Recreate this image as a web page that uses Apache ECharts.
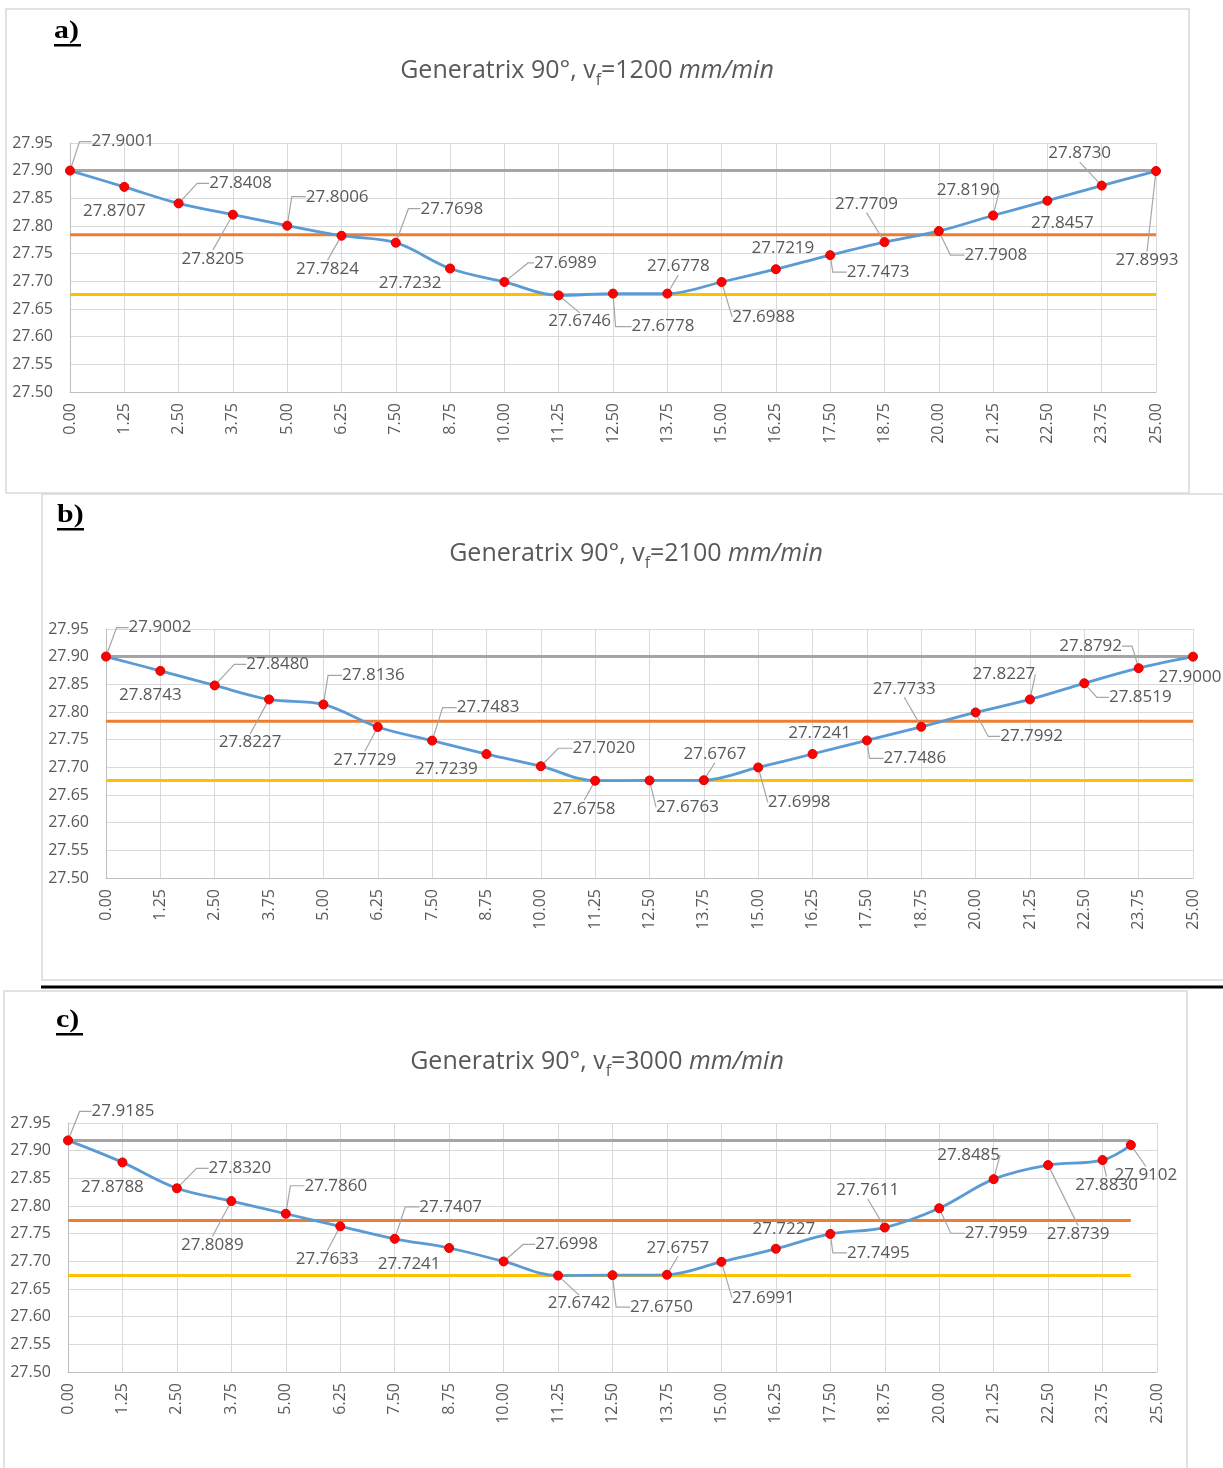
<!DOCTYPE html>
<html>
<head>
<meta charset="utf-8">
<script src="https://cdn.jsdelivr.net/npm/echarts@6/dist/echarts.min.js"></script>
<style>
html,body{margin:0;padding:0;background:#ffffff;}
#chart{width:1223px;height:1468px;}
</style>
</head>
<body>
<div id="chart"></div>
<script>
// ---------------- DATA ----------------
const positionsA = [0, 1.25, 2.5, 3.75, 5, 6.25, 7.5, 8.75, 10, 11.25, 12.5, 13.75, 15, 16.25, 17.5, 18.75, 20, 21.25, 22.5, 23.75, 25];
const positionsB = [0, 1.25, 2.5, 3.75, 5, 6.25, 7.5, 8.75, 10, 11.25, 12.5, 13.75, 15, 16.25, 17.5, 18.75, 20, 21.25, 22.5, 23.75, 25];
const positionsC = [0, 1.25, 2.5, 3.75, 5, 6.25, 7.5, 8.75, 10, 11.25, 12.5, 13.75, 15, 16.25, 17.5, 18.75, 20, 21.25, 22.5, 23.75, 24.4];

const diameterA = [27.9001, 27.8707, 27.8408, 27.8205, 27.8006, 27.7824, 27.7698, 27.7232, 27.6989, 27.6746, 27.6778,
                   27.6778, 27.6988, 27.7219, 27.7473, 27.7709, 27.7908, 27.8190, 27.8457, 27.8730, 27.8993];
const diameterB = [27.9002, 27.8743, 27.8480, 27.8227, 27.8136, 27.7729, 27.7483, 27.7239, 27.7020, 27.6758, 27.6763,
                   27.6767, 27.6998, 27.7241, 27.7486, 27.7733, 27.7992, 27.8227, 27.8519, 27.8792, 27.9000];
const diameterC = [27.9185, 27.8788, 27.8320, 27.8089, 27.7860, 27.7633, 27.7407, 27.7241, 27.6998, 27.6742, 27.6750,
                   27.6757, 27.6991, 27.7227, 27.7495, 27.7611, 27.7959, 27.8485, 27.8739, 27.8830, 27.9102];

// reference lines: [grey (max), orange, yellow (min)]
const referenceA = [27.9001, 27.7844, 27.6760];
const referenceB = [27.9002, 27.7832, 27.6762];
const referenceC = [27.9185, 27.7736, 27.6745];

const feedRates = ['1200', '2100', '3000'];
const panelTags = ['a)', 'b)', 'c)'];

// ---------------- LABEL PLACEMENT (layout only) ----------------
// [dx, dy] of label centre from its marker, and leader stub length (null = no leader)
const labelOffsetA = [[53,-29],[-10,24],[62,-20],[-20,44],[50,-29],[-14,33],[56,-34],[-40,15],[61,-19],[21,26],[50,33],
                      [11,-27],[42,35],[7,-21],[48,17],[-18,-38],[57,24],[-25,-25],[15,22],[-22,-32],[-9,89]];
const leaderA = [12,null,12,0,14,0,12,null,6,0,16,0,0,null,14,0,14,0,null,0,0];
const labelOffsetB = [[54,-29],[-10,24],[63,-21],[-19,43],[50,-29],[-13,33],[56,-33],[-40,15],[63,-18],[-11,28],[38,27],
                      [11,-26],[41,35],[7,-21],[48,18],[-17,-38],[56,24],[-26,-25],[56,14],[-48,-22],[-3,20]];
const leaderB = [12,null,12,0,14,0,14,null,14,0,0,0,0,null,14,0,12,0,12,10,null];
const labelOffsetC = [[55,-29],[-10,25],[63,-20],[-19,44],[50,-28],[-13,33],[56,-32],[-40,16],[63,-17],[21,28],[49,32],
                      [11,-27],[42,36],[8,-20],[48,19],[-17,-37],[57,25],[-25,-24],[30,69],[4,25],[15,30]];
const leaderC = [12,null,12,0,14,0,14,null,12,0,14,0,0,null,14,0,14,0,0,0,0];

// ---------------- BUILD ----------------
const FONT = '"Open Sans", "Noto Sans", sans-serif';
const TXT = '#595959';
const grids = [
  {left: 70, top: 143, width: 1086, height: 249},
  {left: 106, top: 629, width: 1087, height: 249},
  {left: 68, top: 1123, width: 1089, height: 249}
];
const panels = [
  {x: positionsA, y: diameterA, ref: referenceA, off: labelOffsetA, lead: leaderA},
  {x: positionsB, y: diameterB, ref: referenceB, off: labelOffsetB, lead: leaderB},
  {x: positionsC, y: diameterC, ref: referenceC, off: labelOffsetC, lead: leaderC}
];
const refColors = ['#a5a5a5', '#ed7d31', '#ffc000'];

const xAxes = [], yAxes = [], series = [];
panels.forEach((p, k) => {
  xAxes.push({
    gridIndex: k, type: 'value', min: 0, max: 25, interval: 1.25,
    axisLine: {show: true, onZero: false, lineStyle: {color: '#bfbfbf', width: 1}},
    axisTick: {show: false},
    splitLine: {show: true, lineStyle: {color: '#d9d9d9', width: 1}},
    axisLabel: {rotate: 90, margin: 11, color: TXT, fontFamily: FONT, fontSize: 16,
                formatter: v => v.toFixed(2)}
  });
  yAxes.push({
    gridIndex: k, type: 'value', min: 27.5, max: 27.95, interval: 0.05,
    axisLine: {show: true, lineStyle: {color: '#bfbfbf', width: 1}},
    axisTick: {show: false},
    splitLine: {show: true, lineStyle: {color: '#d9d9d9', width: 1}},
    axisLabel: {margin: 17, color: TXT, fontFamily: FONT, fontSize: 16,
                formatter: v => v.toFixed(2)}
  });
  p.ref.forEach((v, j) => {
    series.push({
      type: 'line', xAxisIndex: k, yAxisIndex: k, silent: true, z: 2,
      symbol: 'none', showSymbol: false,
      lineStyle: {color: refColors[j], width: 3},
      data: [[p.x[0], v], [p.x[p.x.length - 1], v]]
    });
  });
  series.push({
    type: 'line', xAxisIndex: k, yAxisIndex: k, z: 5,
    smooth: 0.35, symbol: 'circle', symbolSize: 9, showAllSymbol: true,
    lineStyle: {color: '#5b9bd5', width: 2.8},
    itemStyle: {color: '#ff0000', borderColor: '#e00000', borderWidth: 1},
    label: {show: true, position: 'inside', align: 'center', verticalAlign: 'middle',
            padding: [1, 3],
            color: TXT, fontFamily: FONT, fontSize: 17,
            textBorderWidth: 0, textBorderColor: 'transparent',
            formatter: prm => prm.value[1].toFixed(4)},
    labelLine: {show: true, length2: 0, lineStyle: {color: '#a6a6a6', width: 1.2}},
    emphasis: {disabled: true},
    data: p.x.map((xv, i) => ({
      value: [xv, p.y[i]],
      label: {offset: p.off[i]},
      labelLine: p.lead[i] === null ? {show: false} : {show: true, length2: p.lead[i]}
    }))
  });
});

// ---------------- DECORATION ----------------
const titleCenters = [[587, 71], [636, 554], [597, 1062]];
const tagPos = [[54, 31], [57, 515], [56, 1020]];
const graphics = [
  {type: 'rect', shape: {x: 6, y: 9, width: 1183, height: 484}, style: {fill: 'none', stroke: '#d9d9d9', lineWidth: 1.5}, z: -1},
  {type: 'polyline', shape: {points: [[1223, 494], [42, 494], [42, 980], [1223, 980]]}, style: {fill: 'none', stroke: '#d9d9d9', lineWidth: 1.5}, z: -1},
  {type: 'line', shape: {x1: 41, y1: 987, x2: 1223, y2: 987}, style: {stroke: '#000000', lineWidth: 3}},
  {type: 'polyline', shape: {points: [[4, 1470], [4, 991], [1187, 991], [1187, 1470]]}, style: {fill: 'none', stroke: '#d9d9d9', lineWidth: 1.5}, z: -1}
];
feedRates.forEach((vf, k) => {
  graphics.push({
    type: 'text', x: titleCenters[k][0], y: titleCenters[k][1], z: 10,
    style: {
      text: '{n|Generatrix 90°, v}{s|f}{n|=' + vf + ' }{i|mm/min}',
      align: 'center', verticalAlign: 'middle', textAlign: 'center', textVerticalAlign: 'middle',
      rich: {
        n: {fontFamily: FONT, fontSize: 25, fill: TXT, color: TXT, lineHeight: 34},
        s: {fontFamily: FONT, fontSize: 16, fill: TXT, color: TXT, lineHeight: 16, verticalAlign: 'bottom'},
        i: {fontFamily: FONT, fontSize: 25, fontStyle: 'italic', fill: TXT, color: TXT, lineHeight: 34}
      }
    }
  });
  graphics.push({
    type: 'text', x: tagPos[k][0], y: tagPos[k][1], z: 10, scaleX: 1.15,
    style: {text: panelTags[k], fontFamily: '"Liberation Serif", "DejaVu Serif", serif', fontWeight: 'bold', fontSize: 26,
            fill: '#000000', align: 'left', verticalAlign: 'middle', textAlign: 'left', textVerticalAlign: 'middle'}
  });
  graphics.push({
    type: 'rect', z: 10, shape: {x: tagPos[k][0], y: tagPos[k][1] + 13, width: 27, height: 2.5},
    style: {fill: '#000000'}
  });
});

const chart = echarts.init(document.getElementById('chart'), null, {renderer: 'canvas'});
chart.setOption({
  animation: false,
  backgroundColor: '#ffffff',
  grid: grids,
  xAxis: xAxes,
  yAxis: yAxes,
  series: series,
  graphic: graphics
});
</script>
</body>
</html>
